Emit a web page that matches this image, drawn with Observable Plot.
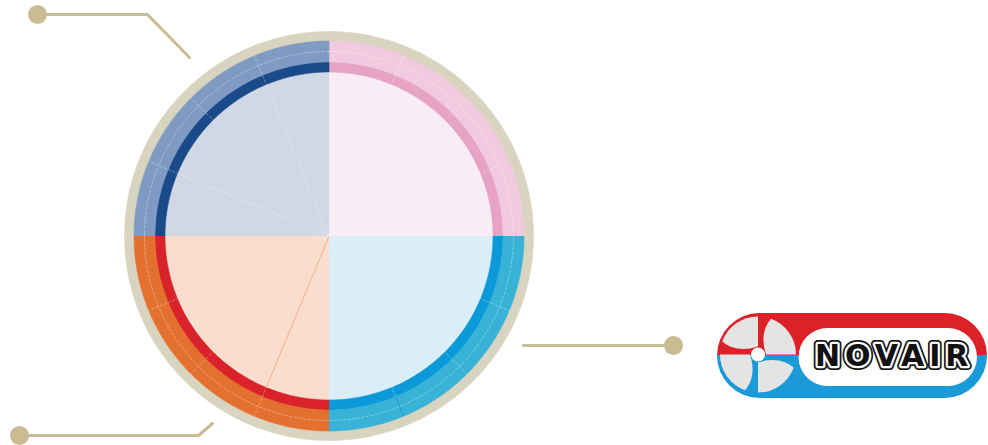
<!DOCTYPE html>
<html><head><meta charset="utf-8">
<script src="https://cdn.jsdelivr.net/npm/d3@7"></script>
<script src="https://cdn.jsdelivr.net/npm/@observablehq/plot@0.6"></script>
<style>html,body{margin:0;padding:0;background:#fff;overflow:hidden}</style>
</head><body><div id="chart"></div>
<script>
// ---------- data ----------
const quadrants = ["rose", "cyan", "orange", "marine"];   // clockwise from 12 o'clock
const quadrantShares = [1, 1, 1, 1];
const subSegmentShares = [
  [1, 1, 1, 1],
  [1, 1, 1, 1],
  [1, 1, 1, 1],
  [1, 1, 1, 1]
];
const rings = ["coeur", "bande", "couronne"];
const logoWord = "NOVAIR";

// ---------- styles / layout ----------
const palette = {
  rose:   {coeur: "#f8edf4", bande: "#e7a3c5", couronne: "#f2cadf"},
  cyan:   {coeur: "#d9eef8", bande: "#0a9ad9", couronne: "#38b2d6"},
  orange: {coeur: "#f9ddcd", bande: "#d9222a", couronne: "#e3702f"},
  marine: {coeur: "#d0d8e6", bande: "#1b4a8a", couronne: "#7f9bc4"}
};
const ringRadii = {coeur: [0, 164], bande: [164, 174], couronne: [174, 195]};
const R = 204.5, frameColor = "#d9d4bf", guideRadius = 184.5;
const accentLines = [
  {quadrant: "orange", boundary: 0, r0: 0, r1: 164, color: "#f1b796"},
  {quadrant: "cyan", boundary: 2, r0: 174, r1: 195, color: "#1697d4"}
];
const goldColor = "#c9bb92";
const callouts = [
  {id: 1, pts: [[-291.5, 221.5], [-181.5, 221.5], [-139.5, 178.5]]},
  {id: 2, pts: [[-309.5, -199.5], [-130.5, -199.5], [-116.5, -187.5]]},
  {id: 3, pts: [[344.5, -109.5], [194.5, -109.5]]}
];

// ---------- geometry helpers ----------
const rad = (a) => a * Math.PI / 180;
const pt = (r, a) => [r * Math.sin(rad(a)), r * Math.cos(rad(a))];
function arc(r, a0, a1) {
  const n = Math.max(2, Math.ceil(Math.abs(a1 - a0) / 0.5));
  return d3.range(n + 1).map(i => pt(r, a0 + (a1 - a0) * i / n));
}
function ringPoly(r0, r1, a0, a1) {
  const outer = arc(r1, a0, a1);
  const inner = r0 > 0 ? arc(r0, a1, a0) : [[0, 0]];
  return outer.concat(inner);
}

// quadrant angles
const total = d3.sum(quadrantShares);
let acc = 0;
const quad = quadrants.map((q, i) => {
  const a0 = acc / total * 360; acc += quadrantShares[i];
  const a1 = acc / total * 360;
  const subs = subSegmentShares[i], st = d3.sum(subs);
  let sa = 0;
  const bounds = subs.slice(0, -1).map(s => { sa += s; return a0 + (a1 - a0) * sa / st; });
  return {q, a0, a1, bounds};
});

// polygons
const polys = [];
ringPoly(0, R, 0, 360).forEach(([x, y]) => polys.push({id: "frame", x, y, fill: frameColor}));
quad.forEach(({q, a0, a1}) => {
  rings.forEach(ring => {
    const [r0, r1] = ringRadii[ring];
    ringPoly(r0, r1, a0, a1).forEach(([x, y]) => polys.push({id: q + ring, x, y, fill: palette[q][ring]}));
  });
});

// sub-segment boundaries
const links = [];
quad.forEach(({q, bounds}) => bounds.forEach((a) => {
  const [x1, y1] = pt(0, a), [x2, y2] = pt(ringRadii.couronne[1], a);
  links.push({x1, y1, x2, y2});
}));
const accents = accentLines.map(d => {
  const a = quad.find(o => o.q === d.quadrant).bounds[d.boundary];
  const [x1, y1] = pt(d.r0, a), [x2, y2] = pt(d.r1, a);
  return {x1, y1, x2, y2, color: d.color};
});
const guide = arc(guideRadius, 0, 360).map(([x, y]) => ({x, y}));

const calloutRows = callouts.flatMap(c => c.pts.map(([x, y]) => ({id: c.id, x, y})));
const calloutDots = callouts.map(c => ({x: c.pts[0][0], y: c.pts[0][1]}));

// ---------- logo (decorative) ----------
function logoMark(index, {x, y}) {
  const g = d3.create("svg:g");
  const defs = g.append("defs");
  const lg = defs.append("linearGradient").attr("id", "novairGrad")
    .attr("x1", 0).attr("y1", 0).attr("x2", 0).attr("y2", 1);
  lg.append("stop").attr("offset", 0).attr("stop-color", "#dd2129");
  lg.append("stop").attr("offset", 0.49).attr("stop-color", "#dd2129");
  lg.append("stop").attr("offset", 0.49).attr("stop-color", "#1a9ad8");
  lg.append("stop").attr("offset", 1).attr("stop-color", "#1a9ad8");
  const X0 = x(388.5), X1 = x(658.5), Y0 = y(-77.5), Y1 = y(-162.5);
  g.append("rect").attr("x", X0).attr("y", Y0).attr("width", X1 - X0).attr("height", Y1 - Y0)
    .attr("rx", (Y1 - Y0) / 2).attr("fill", "url(#novairGrad)");
  const IX0 = x(470), IX1 = x(648.5), IY0 = y(-92.5), IY1 = y(-150.5);
  g.append("rect").attr("x", IX0).attr("y", IY0).attr("width", IX1 - IX0).attr("height", IY1 - IY0)
    .attr("rx", (IY1 - IY0) / 2).attr("fill", "#fff");
  const cx = x(429.5), cy = y(-119), Rb = 38;
  const s = Math.sin(rad(70)) * Rb, c = Math.cos(rad(70)) * Rb;
  const blade = `M0,${-Rb} L0,-8 Q-22,-1 ${-s},${-c} A${Rb},${Rb} 0 0 1 0,${-Rb} Z`;
  [0, -90, -180, -270].forEach(rot => {
    g.append("path").attr("d", blade).attr("fill", "#e4e4e4")
      .attr("transform", `translate(${cx},${cy}) rotate(${rot})`);
  });
  g.append("circle").attr("cx", cx).attr("cy", cy).attr("r", 7).attr("fill", "#fff");
  return g.node();
}

const textOpts = {x: 486, y: -120, text: d => d, textAnchor: "start", lineAnchor: "middle",
  fontSize: 30, fontWeight: "bold", fontFamily: "DejaVu Sans"};

const plot = Plot.plot({
  width: 988, height: 445, margin: 0,
  x: {domain: [-R, R], range: [124, 533], axis: null},
  y: {domain: [-R, R], range: [440, 31], axis: null},
  color: {type: "identity"},
  marks: [
    Plot.line(polys, {x: "x", y: "y", z: "id", fill: "fill", stroke: "fill", strokeWidth: 0.6, curve: "linear"}),
    Plot.link(links, {x1: "x1", y1: "y1", x2: "x2", y2: "y2", stroke: "#ffffff", strokeOpacity: 0.45, strokeWidth: 0.8, strokeDasharray: "3,1.5"}),
    Plot.link(accents, {x1: "x1", y1: "y1", x2: "x2", y2: "y2", stroke: "color", strokeWidth: 1.1}),
    Plot.line(guide, {x: "x", y: "y", stroke: "#ffffff", strokeOpacity: 0.5, strokeWidth: 0.7, strokeDasharray: "2.5,2"}),
    Plot.line(calloutRows, {x: "x", y: "y", z: "id", stroke: goldColor, strokeWidth: 3, curve: "linear"}),
    Plot.dot(calloutDots, {x: "x", y: "y", r: 9.5, fill: goldColor, stroke: null}),
    logoMark,
    Plot.text([logoWord], {...textOpts, fill: "#111", stroke: "#111", strokeWidth: 8}),
    Plot.text([logoWord], {...textOpts, fill: "#111", stroke: "#fff", strokeWidth: 4.5})
  ]
});
d3.select(plot).selectAll("text").attr("letter-spacing", 5);
document.getElementById("chart").appendChild(plot);
</script>
</body></html>
